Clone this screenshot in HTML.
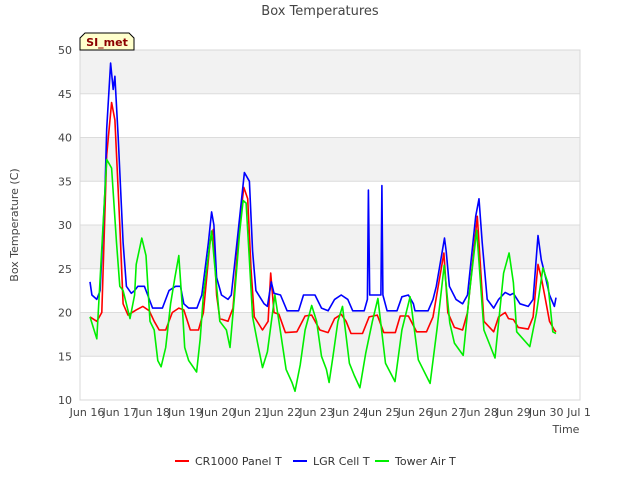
<!DOCTYPE html>
<html><head><meta charset="utf-8"><style>
body{margin:0;background:#fff;font-family:"Liberation Sans",sans-serif;}
svg text{font-family:"DejaVu Sans","Liberation Sans",sans-serif;}
</style></head><body>
<svg id="chart" width="640" height="480" xmlns="http://www.w3.org/2000/svg">
<rect width="640" height="480" fill="#fff"/>
<g id="bands"></g>
<g id="grid"></g>
<g id="ticks"></g>
<g id="series"></g>
<text x="320" y="15" text-anchor="middle" font-size="13" fill="#444">Box Temperatures</text>
<text transform="translate(18,225) rotate(-90)" text-anchor="middle" font-size="11" fill="#444">Box Temperature (C)</text>
<text x="566" y="433" text-anchor="middle" font-size="11" fill="#444">Time</text>
<g>
<path d="M80,50 L80,38 L85,33 L129,33 L134,38 L134,50 Z" fill="#ffffcc" stroke="#000" stroke-width="1"/>
<text x="107" y="46" text-anchor="middle" font-size="11" font-weight="bold" fill="#8b0000">SI_met</text>
</g>
<g>
<line x1="175" y1="461" x2="189" y2="461" stroke="#ff0000" stroke-width="2"/>
<text x="195" y="465" font-size="11" fill="#333">CR1000 Panel T</text>
<line x1="293" y1="461" x2="307" y2="461" stroke="#0000ff" stroke-width="2"/>
<text x="313" y="465" font-size="11" fill="#333">LGR Cell T</text>
<line x1="375" y1="461" x2="389" y2="461" stroke="#00ee00" stroke-width="2"/>
<text x="395" y="465" font-size="11" fill="#333">Tower Air T</text>
</g>
</svg>
<script>
const yTicks=[10,15,20,25,30,35,40,45,50];
const xTickLabels=["Jun 16","Jun 17","Jun 18","Jun 19","Jun 20","Jun 21","Jun 22","Jun 23","Jun 24","Jun 25","Jun 26","Jun 27","Jun 28","Jun 29","Jun 30","Jul 1"];
const xTickDays=[0,1,2,3,4,5,6,7,8,9,10,11,12,13,14,15];
const greenT=[0.09,0.3,0.6,0.75,0.9,1.0,1.1,1.31,1.45,1.5,1.67,1.8,1.92,2.05,2.16,2.26,2.4,2.55,2.68,2.8,2.9,2.98,3.1,3.34,3.45,3.55,3.75,3.8,3.95,4.05,4.25,4.36,4.5,4.65,4.76,4.85,4.95,5.05,5.2,5.35,5.5,5.73,5.85,6.07,6.25,6.34,6.5,6.65,6.85,7.0,7.15,7.3,7.38,7.5,7.65,7.79,8.0,8.15,8.32,8.5,8.7,8.87,9.1,9.39,9.6,9.85,10.1,10.46,10.67,10.89,11.06,11.2,11.47,11.67,11.88,12.1,12.44,12.7,12.87,13.0,13.1,13.5,13.7,13.9,14.05,14.2,14.3];
const greenV=[19.5,17,37.5,36.5,28,23,22.5,19.3,22,25.5,28.5,26.5,19,18,14.5,13.8,16,21,24,26.5,21,16,14.5,13.2,17,22,28,29.3,23,19,18,16,22,29,32.8,32.5,26,19.5,16.5,13.7,15.5,22,19,13.5,12,11,14,18,20.8,19,15,13.5,12,15,19,20.7,14.2,12.8,11.4,15.4,19,21.6,14.2,12.1,18,21.8,14.6,11.9,18.1,25.4,18.8,16.5,15.1,22.6,29.4,18,14.8,24.5,26.8,23.4,17.8,16.1,19.9,25.1,23.4,17.8,17.6];
const blueT=[0.09,0.15,0.3,0.4,0.55,0.6,0.72,0.8,0.85,0.95,1.1,1.2,1.35,1.45,1.55,1.75,1.85,2.0,2.3,2.5,2.7,2.85,2.95,3.1,3.35,3.5,3.7,3.8,3.87,3.95,4.1,4.3,4.4,4.6,4.8,4.95,5.05,5.15,5.4,5.5,5.62,5.7,5.9,6.1,6.45,6.6,6.95,7.15,7.35,7.55,7.75,7.95,8.1,8.45,8.55,8.58,8.62,8.9,8.96,8.99,9.02,9.15,9.45,9.6,9.8,9.95,10.0,10.4,10.55,10.65,10.9,10.95,11.05,11.25,11.45,11.6,11.85,11.95,12.05,12.2,12.4,12.55,12.75,12.9,13.0,13.2,13.45,13.6,13.75,13.85,13.95,14.1,14.25,14.3];
const blueV=[23.5,22,21.5,22.5,34,41,48.5,45.5,47,40,28,23,22.2,22.5,23,23,22,20.5,20.5,22.5,23,23,21,20.5,20.5,22,28,31.5,30,24,22,21.5,22,29,36,35,27,22.5,21,20.7,23.5,22.2,22,20.2,20.2,22,22,20.5,20.2,21.5,22,21.5,20.2,20.2,21.5,34,22,22,22,34.5,22,20.2,20.2,21.8,22,21,20.2,20.2,21.5,23,28.5,27,23,21.5,21,22,31,33,28,21.5,20.5,21.5,22.3,22,22.2,21,20.7,21.5,28.8,26,24.5,22,20.7,21.7];
const redT=[0.09,0.3,0.45,0.6,0.75,0.85,1.0,1.1,1.25,1.5,1.7,1.9,2.05,2.2,2.4,2.6,2.8,2.95,3.15,3.4,3.55,3.75,3.85,3.95,4.05,4.3,4.45,4.65,4.78,4.9,5.0,5.1,5.35,5.52,5.6,5.7,5.85,6.05,6.4,6.65,6.85,7.1,7.35,7.55,7.75,7.9,8.05,8.4,8.6,8.85,9.05,9.4,9.55,9.8,10.05,10.35,10.55,10.88,11.0,11.2,11.45,11.6,11.9,12.0,12.1,12.4,12.55,12.75,12.85,13.0,13.15,13.45,13.6,13.75,13.85,13.95,14.1,14.25,14.3];
const redV=[19.5,19,20,38,44,42,30,21,19.7,20.3,20.7,20.2,19,18,18,20,20.5,20.3,18,18,20,28,29.5,22,19.3,19,20.5,30,34.3,33,25,19.5,18,19,24.5,20,19.8,17.7,17.8,19.6,19.7,18,17.7,19.3,19.8,19,17.6,17.6,19.5,19.7,17.7,17.7,19.6,19.6,17.8,17.8,19.5,26.8,20,18.3,18,20,31,25,19,17.8,19.5,20,19.3,19.2,18.3,18.1,19.5,25.5,24,22,19,18,17.8];
const L=80,R=580,T=50,B=400,ymin=10,ymax=50;
const x0=87,dayW=32.8;
function xs(d){return x0+dayW*d;}
function ys(v){return B-(v-ymin)/(ymax-ymin)*(B-T);}
const NS="http://www.w3.org/2000/svg";
function mk(tag,attrs,parent){const e=document.createElementNS(NS,tag);for(const k in attrs)e.setAttribute(k,attrs[k]);parent.appendChild(e);return e;}
const bands=document.getElementById('bands'),grid=document.getElementById('grid'),ticks=document.getElementById('ticks'),series=document.getElementById('series');
const bg=mk('rect',{x:L,y:T,width:R-L,height:B-T,fill:'#fff',stroke:'#d8d8d8'},bands);


for(let i=0;i<yTicks.length-1;i++){
  if(i%2===1){const b=mk('rect',{x:L,y:ys(yTicks[i+1]),width:R-L,height:ys(yTicks[i])-ys(yTicks[i+1]),fill:'#f2f2f2'},bands);
  
  }
}
yTicks.forEach(v=>{
  const g=mk('line',{x1:L,x2:R,y1:ys(v),y2:ys(v),stroke:'#dcdcdc'},grid);
  
  
  const t=mk('text',{x:L-8,y:ys(v)+4,'text-anchor':'end','font-size':'11',fill:'#444'},ticks);
  t.textContent=v;
  
  
});
mk('rect',{x:L,y:T,width:R-L,height:B-T,fill:'none',stroke:'#d8d8d8'},grid);
xTickDays.forEach((d,i)=>{
  const t=mk('text',{x:xs(d),y:416,'text-anchor':'middle','font-size':'11',fill:'#444'},ticks);
  t.textContent=xTickLabels[i];
  
  
});
function line(ts,vs,color,name){
  const p=ts.map((t,i)=>(i?'L':'M')+xs(t).toFixed(1)+','+ys(vs[i]).toFixed(1)).join('');
  const e=mk('path',{d:p,fill:'none',stroke:color,'stroke-width':'1.6','stroke-linejoin':'round'},series);
  
  
}
line(redT,redV,'#ff0000','cr1000-panel-t-line');
line(blueT,blueV,'#0000ff','lgr-cell-t-line');
line(greenT,greenV,'#00ee00','tower-air-t-line');
</script>
</body></html>
